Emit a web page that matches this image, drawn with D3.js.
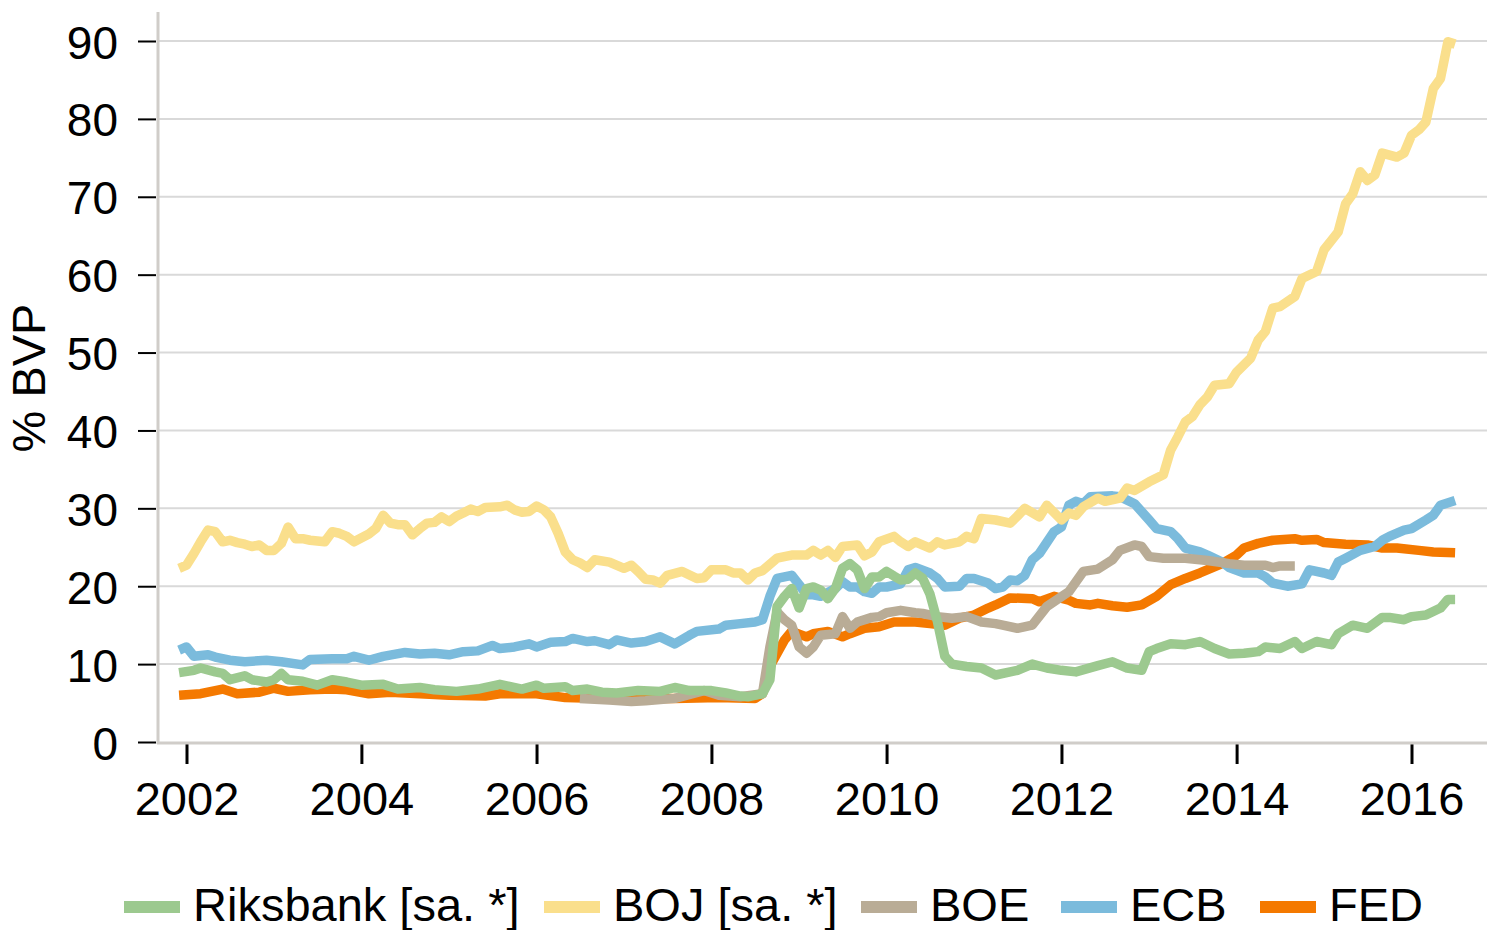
<!DOCTYPE html>
<html>
<head>
<meta charset="utf-8">
<script src="https://cdn.jsdelivr.net/npm/d3@7"></script>
<style>
  body { margin: 0; background: #fff; }
  text { font-family: "Liberation Sans", Arial, sans-serif; fill: #000; }
</style>
</head>
<body>
<div id="graf"></div>
<script>
// Datos (mes, % BVP)
var riksbank = [
  ["2001-12", 8.9], ["2002-02", 9.2], ["2002-03", 9.5], ["2002-05", 9.0], ["2002-06", 8.8],
  ["2002-07", 8.0], ["2002-09", 8.5], ["2002-10", 8.0], ["2002-12", 7.7], ["2003-01", 8.0],
  ["2003-02", 8.8], ["2003-03", 8.0], ["2003-05", 7.8], ["2003-07", 7.3], ["2003-09", 8.0],
  ["2003-11", 7.7], ["2004-01", 7.3], ["2004-04", 7.4], ["2004-06", 6.8], ["2004-09", 7.0],
  ["2004-11", 6.7], ["2005-02", 6.5], ["2005-05", 6.8], ["2005-08", 7.4], ["2005-11", 6.8],
  ["2006-01", 7.3], ["2006-02", 6.9], ["2006-05", 7.1], ["2006-06", 6.6], ["2006-08", 6.8],
  ["2006-10", 6.4], ["2006-12", 6.3], ["2007-03", 6.6], ["2007-06", 6.5], ["2007-08", 7.0],
  ["2007-10", 6.6], ["2008-01", 6.6], ["2008-03", 6.3], ["2008-05", 5.9], ["2008-06", 5.8],
  ["2008-08", 6.2], ["2008-09", 8.0], ["2008-10", 17.4], ["2008-11", 18.7], ["2008-12", 19.7],
  ["2009-01", 17.2], ["2009-02", 19.7], ["2009-03", 19.9], ["2009-04", 19.5], ["2009-05", 18.4],
  ["2009-06", 19.7], ["2009-07", 22.3], ["2009-08", 22.9], ["2009-09", 22.1], ["2009-10", 19.7],
  ["2009-11", 21.2], ["2009-12", 21.2], ["2010-01", 21.9], ["2010-02", 21.3], ["2010-03", 20.8],
  ["2010-04", 20.9], ["2010-05", 21.7], ["2010-06", 21.0], ["2010-07", 19.0], ["2010-08", 15.5],
  ["2010-09", 11.0], ["2010-10", 10.0], ["2010-12", 9.7], ["2011-02", 9.5], ["2011-04", 8.6],
  ["2011-06", 9.0], ["2011-07", 9.2], ["2011-09", 10.0], ["2011-11", 9.5], ["2012-01", 9.2],
  ["2012-03", 9.0], ["2012-06", 9.8], ["2012-08", 10.3], ["2012-10", 9.5], ["2012-12", 9.2],
  ["2013-01", 11.6], ["2013-02", 12.0], ["2013-04", 12.6], ["2013-06", 12.5], ["2013-08", 12.9],
  ["2013-10", 12.0], ["2013-12", 11.3], ["2014-02", 11.4], ["2014-03", 11.5], ["2014-04", 11.6],
  ["2014-05", 12.2], ["2014-07", 12.0], ["2014-09", 12.9], ["2014-10", 12.0], ["2014-12", 12.9],
  ["2015-02", 12.5], ["2015-03", 13.9], ["2015-05", 15.0], ["2015-07", 14.6], ["2015-09", 16.0],
  ["2015-10", 16.0], ["2015-12", 15.7], ["2016-01", 16.1], ["2016-03", 16.3], ["2016-05", 17.2],
  ["2016-06", 18.3], ["2016-07", 18.3]
];

var boj = [
  ["2001-12", 22.3], ["2002-01", 22.7], ["2002-02", 24.2], ["2002-03", 25.7], ["2002-04", 27.2],
  ["2002-05", 27.0], ["2002-06", 25.7], ["2002-07", 25.9], ["2002-08", 25.6], ["2002-09", 25.4],
  ["2002-10", 25.1], ["2002-11", 25.3], ["2002-12", 24.6], ["2003-01", 24.6], ["2003-02", 25.5],
  ["2003-03", 27.6], ["2003-04", 26.1], ["2003-05", 26.1], ["2003-06", 25.9], ["2003-08", 25.7],
  ["2003-09", 27.0], ["2003-10", 26.8], ["2003-11", 26.4], ["2003-12", 25.7], ["2004-02", 26.7],
  ["2004-03", 27.4], ["2004-04", 29.1], ["2004-05", 28.1], ["2004-06", 27.9], ["2004-07", 27.9],
  ["2004-08", 26.6], ["2004-09", 27.4], ["2004-10", 28.1], ["2004-11", 28.2], ["2004-12", 28.9],
  ["2005-01", 28.3], ["2005-02", 29.0], ["2005-03", 29.4], ["2005-04", 29.9], ["2005-05", 29.6],
  ["2005-06", 30.1], ["2005-08", 30.2], ["2005-09", 30.4], ["2005-10", 29.8], ["2005-11", 29.5],
  ["2005-12", 29.6], ["2006-01", 30.3], ["2006-02", 29.8], ["2006-03", 28.9], ["2006-04", 26.8],
  ["2006-05", 24.4], ["2006-06", 23.4], ["2006-07", 23.0], ["2006-08", 22.4], ["2006-09", 23.4],
  ["2006-11", 23.1], ["2007-01", 22.3], ["2007-02", 22.7], ["2007-03", 21.9], ["2007-04", 20.9],
  ["2007-05", 20.8], ["2007-06", 20.4], ["2007-07", 21.4], ["2007-09", 21.9], ["2007-11", 21.0],
  ["2007-12", 21.1], ["2008-01", 22.1], ["2008-03", 22.1], ["2008-04", 21.7], ["2008-05", 21.7],
  ["2008-06", 20.8], ["2008-07", 21.7], ["2008-08", 22.0], ["2008-10", 23.6], ["2008-12", 24.0],
  ["2009-02", 24.0], ["2009-03", 24.6], ["2009-04", 24.0], ["2009-05", 24.6], ["2009-06", 23.7],
  ["2009-07", 25.1], ["2009-09", 25.3], ["2009-10", 23.9], ["2009-11", 24.4], ["2009-12", 25.7],
  ["2010-02", 26.4], ["2010-03", 25.7], ["2010-04", 25.1], ["2010-05", 25.7], ["2010-07", 24.9],
  ["2010-08", 25.7], ["2010-09", 25.3], ["2010-11", 25.7], ["2010-12", 26.4], ["2011-01", 26.1],
  ["2011-02", 28.7], ["2011-04", 28.5], ["2011-06", 28.1], ["2011-07", 29.0], ["2011-08", 30.0],
  ["2011-10", 28.9], ["2011-11", 30.4], ["2012-01", 28.5], ["2012-02", 29.4], ["2012-03", 29.1],
  ["2012-04", 30.2], ["2012-06", 31.3], ["2012-07", 30.9], ["2012-09", 31.3], ["2012-10", 32.6],
  ["2012-11", 32.3], ["2013-01", 33.4], ["2013-03", 34.3], ["2013-04", 37.5], ["2013-05", 39.2],
  ["2013-06", 41.1], ["2013-07", 41.8], ["2013-08", 43.3], ["2013-09", 44.3], ["2013-10", 45.8],
  ["2013-12", 46.0], ["2014-01", 47.5], ["2014-03", 49.3], ["2014-04", 51.6], ["2014-05", 52.7],
  ["2014-06", 55.7], ["2014-07", 55.9], ["2014-09", 57.2], ["2014-10", 59.5], ["2014-12", 60.4],
  ["2015-01", 63.2], ["2015-02", 64.4], ["2015-03", 65.5], ["2015-04", 69.1], ["2015-05", 70.4],
  ["2015-06", 73.2], ["2015-07", 72.1], ["2015-08", 72.8], ["2015-09", 75.6], ["2015-11", 75.1],
  ["2015-12", 75.6], ["2016-01", 77.9], ["2016-02", 78.6], ["2016-03", 79.6], ["2016-04", 83.9],
  ["2016-05", 85.2], ["2016-06", 89.9], ["2016-07", 89.6]
];

var boe = [
  ["2006-07", 5.6], ["2006-11", 5.4], ["2007-02", 5.2], ["2007-04", 5.3], ["2007-08", 5.6],
  ["2007-12", 6.6], ["2008-02", 6.0], ["2008-05", 5.8], ["2008-08", 6.2], ["2008-09", 12.2],
  ["2008-10", 16.7], ["2008-11", 15.7], ["2008-12", 15.0], ["2009-01", 12.2], ["2009-02", 11.4],
  ["2009-03", 12.2], ["2009-04", 13.7], ["2009-06", 13.9], ["2009-07", 16.1], ["2009-08", 14.6],
  ["2009-09", 15.4], ["2009-11", 16.0], ["2009-12", 16.1], ["2010-01", 16.6], ["2010-03", 16.9],
  ["2010-05", 16.6], ["2010-06", 16.5], ["2010-08", 16.1], ["2010-10", 15.9], ["2010-12", 16.1],
  ["2011-02", 15.4], ["2011-04", 15.2], ["2011-05", 15.0], ["2011-07", 14.6], ["2011-09", 15.0],
  ["2011-11", 17.4], ["2012-02", 19.3], ["2012-04", 21.9], ["2012-06", 22.2], ["2012-08", 23.4],
  ["2012-09", 24.6], ["2012-11", 25.3], ["2012-12", 25.1], ["2013-01", 23.8], ["2013-03", 23.6],
  ["2013-06", 23.6], ["2013-09", 23.3], ["2013-12", 22.9], ["2014-02", 22.7], ["2014-05", 22.7],
  ["2014-06", 22.4], ["2014-07", 22.6], ["2014-09", 22.6]
];

var ecb = [
  ["2001-12", 11.8], ["2002-01", 12.2], ["2002-02", 11.0], ["2002-04", 11.2], ["2002-05", 10.9],
  ["2002-07", 10.5], ["2002-09", 10.3], ["2002-12", 10.5], ["2003-02", 10.3], ["2003-05", 9.9],
  ["2003-06", 10.6], ["2003-09", 10.7], ["2003-11", 10.7], ["2003-12", 11.0], ["2004-02", 10.5],
  ["2004-04", 11.0], ["2004-07", 11.5], ["2004-09", 11.3], ["2004-11", 11.4], ["2005-01", 11.2],
  ["2005-03", 11.6], ["2005-05", 11.7], ["2005-07", 12.4], ["2005-08", 12.0], ["2005-10", 12.2],
  ["2005-12", 12.6], ["2006-01", 12.2], ["2006-03", 12.8], ["2006-05", 12.9], ["2006-06", 13.3],
  ["2006-08", 12.9], ["2006-09", 13.0], ["2006-11", 12.5], ["2006-12", 13.1], ["2007-02", 12.7],
  ["2007-04", 12.9], ["2007-06", 13.5], ["2007-08", 12.6], ["2007-10", 13.7], ["2007-11", 14.2],
  ["2008-02", 14.5], ["2008-03", 15.0], ["2008-05", 15.2], ["2008-07", 15.4], ["2008-08", 15.7],
  ["2008-09", 18.7], ["2008-10", 21.0], ["2008-12", 21.4], ["2009-01", 20.2], ["2009-02", 18.9],
  ["2009-03", 18.9], ["2009-04", 18.7], ["2009-06", 19.7], ["2009-07", 20.6], ["2009-08", 19.9],
  ["2009-09", 19.9], ["2009-10", 19.3], ["2009-11", 19.1], ["2009-12", 19.9], ["2010-01", 19.9],
  ["2010-03", 20.3], ["2010-04", 22.1], ["2010-05", 22.4], ["2010-07", 21.7], ["2010-08", 21.0],
  ["2010-09", 19.9], ["2010-11", 20.0], ["2010-12", 21.0], ["2011-01", 21.0], ["2011-03", 20.4],
  ["2011-04", 19.7], ["2011-05", 19.9], ["2011-06", 20.8], ["2011-07", 20.7], ["2011-08", 21.4],
  ["2011-09", 23.4], ["2011-10", 24.2], ["2011-12", 27.0], ["2012-01", 27.6], ["2012-02", 30.4],
  ["2012-03", 30.9], ["2012-04", 30.6], ["2012-05", 31.5], ["2012-08", 31.6], ["2012-09", 31.5],
  ["2012-11", 30.6], ["2013-01", 28.5], ["2013-02", 27.4], ["2013-04", 27.0], ["2013-05", 26.1],
  ["2013-06", 24.9], ["2013-08", 24.4], ["2013-09", 24.0], ["2013-11", 23.1], ["2013-12", 22.4],
  ["2014-02", 21.7], ["2014-04", 21.7], ["2014-05", 21.2], ["2014-06", 20.4], ["2014-08", 20.0],
  ["2014-10", 20.3], ["2014-11", 22.1], ["2015-01", 21.7], ["2015-02", 21.4], ["2015-03", 23.1],
  ["2015-04", 23.6], ["2015-06", 24.6], ["2015-08", 25.1], ["2015-09", 25.9], ["2015-10", 26.4],
  ["2015-12", 27.2], ["2016-01", 27.4], ["2016-03", 28.5], ["2016-04", 29.1], ["2016-05", 30.4],
  ["2016-07", 31.0]
];

var fed = [
  ["2001-12", 6.0], ["2002-03", 6.2], ["2002-06", 6.8], ["2002-08", 6.2], ["2002-11", 6.4],
  ["2003-01", 6.9], ["2003-03", 6.5], ["2003-06", 6.7], ["2003-09", 6.8], ["2003-11", 6.7],
  ["2004-02", 6.2], ["2004-05", 6.4], ["2004-09", 6.2], ["2005-01", 6.0], ["2005-06", 5.9],
  ["2005-08", 6.2], ["2006-01", 6.2], ["2006-05", 5.7], ["2006-10", 5.6], ["2007-08", 5.6],
  ["2008-02", 5.7], ["2008-07", 5.6], ["2008-08", 6.2], ["2008-09", 9.7], ["2008-11", 13.1],
  ["2008-12", 14.2], ["2009-02", 13.5], ["2009-03", 13.9], ["2009-05", 14.2], ["2009-07", 13.5],
  ["2009-08", 13.9], ["2009-10", 14.6], ["2009-12", 14.8], ["2010-02", 15.4], ["2010-05", 15.4],
  ["2010-07", 15.2], ["2010-09", 15.0], ["2010-11", 15.9], ["2011-01", 16.3], ["2011-03", 17.2],
  ["2011-04", 17.6], ["2011-06", 18.5], ["2011-09", 18.4], ["2011-10", 18.0], ["2011-12", 18.7],
  ["2012-02", 18.2], ["2012-03", 17.8], ["2012-05", 17.6], ["2012-06", 17.8], ["2012-08", 17.5],
  ["2012-10", 17.3], ["2012-12", 17.6], ["2013-02", 18.7], ["2013-04", 20.2], ["2013-06", 21.0],
  ["2013-08", 21.7], ["2013-11", 22.9], ["2014-01", 24.0], ["2014-02", 24.9], ["2014-04", 25.5],
  ["2014-06", 25.9], ["2014-09", 26.1], ["2014-10", 25.9], ["2014-12", 26.0], ["2015-01", 25.6],
  ["2015-04", 25.4], ["2015-07", 25.3], ["2015-09", 24.9], ["2015-11", 24.9], ["2016-02", 24.6],
  ["2016-04", 24.4], ["2016-07", 24.3]
];

var nombres = ["Riksbank [sa. *]", "BOJ [sa. *]", "BOE", "ECB", "FED"];
var colores = ["#9cc98f", "#fadf8c", "#b9ac96", "#7bbbdc", "#f47900"];
var yTicks = [0, 10, 20, 30, 40, 50, 60, 70, 80, 90];
var xTicks = ["2002", "2004", "2006", "2008", "2010", "2012", "2014", "2016"];

var ancho_total = 1487, alto_total = 930;
var fuente = 47;
var parser = d3.timeParse("%Y-%m");
var parserAnio = d3.timeParse("%Y");

var svg = d3.select("#graf").append("svg")
  .attr("width", ancho_total)
  .attr("height", alto_total);

// Escaladores
var x = d3.scaleTime()
  .domain([parserAnio("2002"), parserAnio("2016")])
  .range([186.5, 1411.5]);
var y = d3.scaleLinear().domain([0, 90]).range([742, 41]);

var izq = 158, der = ancho_total;

// Grilla
svg.append("g").selectAll("line")
  .data(yTicks.filter((d) => d > 0))
  .join("line")
  .attr("x1", izq).attr("x2", der)
  .attr("y1", (d) => y(d)).attr("y2", (d) => y(d))
  .attr("stroke", "#d9d9d9")
  .attr("stroke-width", 2);

// Ejes
var yAxis = svg.append("g")
  .attr("transform", `translate(${izq - 2}, 0)`)
  .call(d3.axisLeft(y).tickValues(yTicks).tickSize(18).tickPadding(20));
yAxis.select(".domain").remove();
yAxis.selectAll(".tick line").attr("stroke", "#000").attr("stroke-width", 2);
yAxis.selectAll(".tick text")
  .attr("font-size", 46)
  .attr("font-family", '"Liberation Sans", Arial, sans-serif')
  .attr("dy", "0.37em");

var xAxis = svg.append("g")
  .attr("transform", "translate(0, 744)")
  .call(d3.axisBottom(x).tickValues(xTicks.map((d) => parserAnio(d)))
    .tickFormat(d3.timeFormat("%Y")).tickSize(20).tickPadding(18));
xAxis.select(".domain").remove();
xAxis.selectAll(".tick line").attr("stroke", "#000").attr("stroke-width", 3);
xAxis.selectAll(".tick text")
  .attr("font-size", fuente)
  .attr("font-family", '"Liberation Sans", Arial, sans-serif');

svg.append("line")
  .attr("x1", izq).attr("x2", izq)
  .attr("y1", 12).attr("y2", 744)
  .attr("stroke", "#d0cdc9").attr("stroke-width", 3);
svg.append("line")
  .attr("x1", izq - 1).attr("x2", der)
  .attr("y1", 743).attr("y2", 743)
  .attr("stroke", "#d0cdc9").attr("stroke-width", 3);

// Titulo eje y
svg.append("text")
  .attr("transform", "translate(45, 378) rotate(-90)")
  .attr("text-anchor", "middle")
  .attr("font-size", fuente)
  .text("% BVP");

// Lineas (FED abajo, Riksbank arriba)
var series = [riksbank, boj, boe, ecb, fed];
var lineaGen = d3.line()
  .x((d) => x(parser(d[0])))
  .y((d) => y(d[1]));

for (var i = series.length - 1; i >= 0; i--) {
  svg.append("path")
    .attr("fill", "none")
    .attr("stroke", colores[i])
    .attr("stroke-width", 9.5)
    .attr("stroke-linejoin", "round")
    .attr("d", lineaGen(series[i]));
}

// Leyenda
var muestraX = [124, 544, 861, 1061, 1260];
var leyenda = svg.append("g");
nombres.forEach((n, i) => {
  leyenda.append("rect")
    .attr("x", muestraX[i]).attr("y", 901)
    .attr("width", 56).attr("height", 12)
    .attr("fill", colores[i]);
  leyenda.append("text")
    .attr("x", muestraX[i] + 69).attr("y", 921)
    .attr("font-size", fuente)
    .text(n);
});
</script>
</body>
</html>
